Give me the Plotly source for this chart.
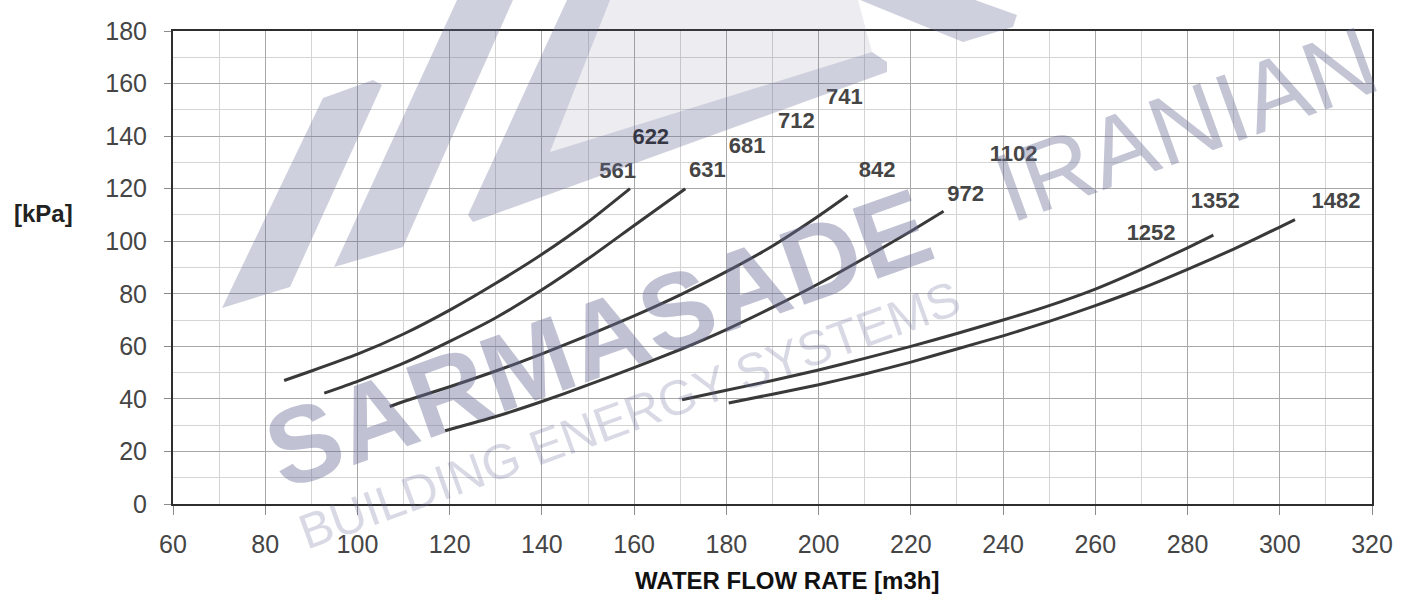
import plotly.graph_objects as go

# ---------------- data ----------------
flow_1 = [84.1, 90, 100, 110, 120, 130, 140, 150, 159.1]
dp_1 = [47.0, 50.6, 57.0, 64.7, 73.8, 84.0, 95.0, 107.3, 120.0]

flow_2 = [92.8, 100, 110, 120, 130, 140, 150, 160, 171.1]
dp_2 = [42.2, 46.7, 53.6, 61.9, 70.9, 81.5, 93.3, 106.0, 120.0]

flow_3 = [107.0, 110, 120, 130, 140, 150, 160, 170, 180, 190, 200, 206.3]
dp_3 = [37.1, 39.0, 44.6, 50.6, 57.1, 64.2, 71.6, 79.6, 88.4, 98.2, 109.6, 117.4]

flow_4 = [119.0, 130, 140, 150, 160, 170, 180, 190, 200, 210, 220, 227.1]
dp_4 = [27.9, 33.3, 39.0, 45.3, 51.9, 58.8, 66.4, 74.8, 83.8, 93.6, 103.8, 111.4]

flow_5 = [170.4, 180, 190, 200, 210, 220, 230, 240, 250, 260, 270, 280, 285.6]
dp_5 = [39.7, 43.3, 47.0, 51.0, 55.4, 60.0, 64.9, 70.0, 75.5, 81.8, 89.3, 97.5, 102.3]

flow_6 = [180.5, 190, 200, 210, 220, 230, 240, 250, 260, 270, 280, 290, 300, 303.3]
dp_6 = [38.4, 41.8, 45.4, 49.5, 54.0, 59.0, 64.0, 69.5, 75.5, 82.0, 89.3, 97.0, 105.4, 108.2]

label_text = ["561", "622", "631", "681", "712", "741", "842", "972", "1102", "1252", "1352", "1482"]
label_x = [156.4, 163.6, 175.9, 184.5, 195.2, 205.6, 212.7, 231.9, 242.3, 272.1, 286.0, 312.2]
label_y = [126.2, 139.1, 126.4, 135.6, 145.1, 154.2, 126.6, 117.4, 132.8, 102.4, 114.8, 114.8]

x_range = [60, 320]
y_range = [0, 180]
x_title = "WATER FLOW RATE [m3h]"
y_title = "[kPa]"

# ---------------- figure ----------------
W, H = 1412, 595
L, R, T, B = 173, 40, 31, 91
PW, PH = W - L - R, H - T - B
FONT = "Liberation Sans, Arial, Helvetica, sans-serif"

fig = go.Figure()
line_color = "#393939"
for fx, dy in [(flow_1, dp_1), (flow_2, dp_2), (flow_3, dp_3),
               (flow_4, dp_4), (flow_5, dp_5), (flow_6, dp_6)]:
    fig.add_trace(go.Scatter(
        x=fx, y=dy, mode="lines",
        line=dict(color=line_color, width=3, shape="spline", smoothing=0.5),
        hoverinfo="skip", showlegend=False))

label_colors = ["#1c1c1c" if t == "622" else "#454545" for t in label_text]
fig.add_trace(go.Scatter(
    x=label_x, y=label_y, mode="text", text=label_text,
    textposition="middle center", cliponaxis=False,
    textfont=dict(family=FONT, size=22, color=label_colors, weight="bold"),
    hoverinfo="skip", showlegend=False))


def px_to_paper(px, py):
    return (px - L) / PW, (H - B - py) / PH


def path(points):
    s = []
    for i, (px, py) in enumerate(points):
        x, y = px_to_paper(px, py)
        s.append(("M " if i == 0 else "L ") + f"{x:.4f},{y:.4f}")
    return " ".join(s) + " Z"


# watermark logo shapes (page pixel geometry)
wm_dark = "rgba(105,110,150,0.32)"
wm_light = "rgba(105,110,150,0.13)"
logo_dark = [
    [(222, 308), (290, 287), (382, 85), (373, 80), (323, 98)],
    [(334, 267), (403, 247), (513, 0), (457, 0)],
    [(468, 215), (550, 152), (610, 0), (567, 0)],
    [(468, 215), (473, 222), (887, 72), (887, 62), (872, 52), (550, 152)],
    [(860, 0), (975, 0), (1017, 15), (1013, 27), (963, 42)],
]
logo_light = [
    [(550, 152), (872, 52), (858, 0), (610, 0)],
]
shapes = []
for pts in logo_light:
    shapes.append(dict(type="path", xref="paper", yref="paper", path=path(pts),
                       fillcolor=wm_light, line=dict(width=0), layer="above"))
for pts in logo_dark:
    shapes.append(dict(type="path", xref="paper", yref="paper", path=path(pts),
                       fillcolor=wm_dark, line=dict(width=0), layer="above"))

annotations = []


def add_text(text, px, py, size, color, weight="normal", angle=0, family=FONT):
    x, y = px_to_paper(px, py)
    annotations.append(dict(text=text, x=x, y=y, xref="paper", yref="paper",
                            xanchor="center", yanchor="middle", showarrow=False,
                            textangle=angle,
                            font=dict(family=family, size=size, color=color, weight=weight)))


# watermark texts
add_text("SARMASADE", 598, 338, 108, "rgba(105,110,150,0.42)", "bold", -19.6)
add_text("IRANIAN", 1186, 124, 98, "rgba(105,110,150,0.40)", "normal", -19.9)
add_text("BUILDING ENERGY SYSTEMS", 629, 415, 49, "rgba(105,110,150,0.26)", "normal", -19.9)

# axis titles
add_text(x_title, 787, 580, 24, "#111111", "bold")
add_text(y_title, 43, 213, 24, "#222222", "bold")

fig.update_layout(
    width=W, height=H,
    margin=dict(l=L, r=R, t=T, b=B, pad=0),
    paper_bgcolor="white", plot_bgcolor="white",
    showlegend=False, shapes=shapes, annotations=annotations,
)

axis_common = dict(
    showgrid=True, gridcolor="#a8a8a8", gridwidth=1,
    ticks="outside", tickcolor="#8a8a8a", tickwidth=1,
    showline=True, linecolor="#2e2e2e", linewidth=2, mirror=True,
    zeroline=False,
    tickfont=dict(family=FONT, size=25, color="#454545"),
)
fig.update_xaxes(range=x_range, tickmode="linear", tick0=60, dtick=20, ticklen=9,
                 ticklabelstandoff=8,
                 minor=dict(dtick=10, showgrid=True, gridcolor="#d4d4d4", ticks=""),
                 **axis_common)
fig.update_yaxes(range=y_range, tickmode="linear", tick0=0, dtick=20, ticklen=7,
                 ticklabelstandoff=12,
                 minor=dict(dtick=10, showgrid=True, gridcolor="#d4d4d4", ticks=""),
                 **axis_common)

fig.write_html("out.html", config={"displayModeBar": False},
               post_script="document.body.style.margin='0';document.body.style.overflow='hidden';")
